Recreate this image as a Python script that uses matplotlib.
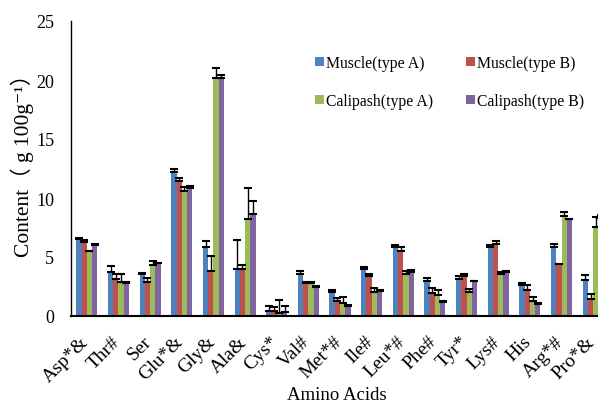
import matplotlib
matplotlib.use("Agg")
import matplotlib.pyplot as plt
import matplotlib.transforms as mtransforms
import numpy as np

categories = ["Asp*&", "Thr#", "Ser", "Glu*&", "Gly&", "Ala&", "Cys*", "Val#", "Met*#",
              "Ile#", "Leu*#", "Phe#", "Tyr*", "Lys#", "His", "Arg*#", "Pro*&"]
series_names = ["Muscle(type A)", "Muscle(type B)", "Calipash(type A)", "Calipash(type B)"]

muscle_a = [6.5, 3.75, 3.53, 12.18, 5.82, 3.98, 0.45, 3.59, 2.0, 3.98, 5.82, 3.0, 3.14, 5.87, 2.63, 5.82, 3.08]
muscle_b = [6.3, 3.1, 2.88, 11.44, 3.84, 3.98, 0.45, 2.82, 1.3, 3.42, 5.53, 1.92, 3.42, 6.1, 2.2, 4.4, 1.44]
calip_a = [5.5, 2.9, 4.35, 10.57, 20.2, 8.25, 0.23, 2.77, 1.1, 2.06, 3.53, 1.8, 2.0, 3.6, 1.24, 8.5, 7.57]
calip_b = [6.0, 2.77, 4.47, 10.87, 20.2, 8.64, 0.37, 2.46, 0.87, 2.12, 3.76, 1.21, 2.94, 3.7, 1.02, 8.22, 8.3]

err_muscle_a = [0.1, 0.5, 0.14, 0.25, 0.56, 2.46, 0.42, 0.2, 0.22, 0.2, 0.22, 0.25, 0.25, 0.17, 0.2, 0.28, 0.4]
err_muscle_b = [0.1, 0.45, 0.3, 0.25, 1.27, 0.37, 0.28, 0.05, 0.23, 0.14, 0.28, 0.45, 0.15, 0.22, 0.42, 0.0, 0.4]
err_calip_a = [0.05, 0.65, 0.3, 0.4, 0.8, 2.63, 1.13, 0.08, 0.5, 0.28, 0.3, 0.42, 0.25, 0.17, 0.34, 0.34, 0.8]
err_calip_b = [0.1, 0.14, 0.05, 0.15, 0.25, 1.13, 0.45, 0.06, 0.07, 0.08, 0.15, 0.06, 0.05, 0.14, 0.06, 0.03, 0.3]

colors = ["#4F81BD", "#C0504D", "#9BBB59", "#8064A2"]

plt.rcParams["font.family"] = ["Liberation Serif", "Noto Sans CJK SC", "DejaVu Sans"]

fig = plt.figure(figsize=(5.98, 4.06), dpi=100)
W, H = 598, 406
left, right, bottom, top = 71, 609, 317, 22
ax = fig.add_axes([left / W, 1 - bottom / H, (right - left) / W, (bottom - top) / H])

x = np.arange(len(categories))
bw = 0.166
data = [muscle_a, muscle_b, calip_a, calip_b]
errs = [err_muscle_a, err_muscle_b, err_calip_a, err_calip_b]
handles = []
for i, (vals, e, c, name) in enumerate(zip(data, errs, colors, series_names)):
    pos = x + (i - 1.5) * bw
    h = ax.bar(pos, vals, width=bw, color=c, label=name, zorder=2)
    handles.append(h)
    ax.errorbar(pos, vals, yerr=[np.zeros(len(e)), e], fmt="none", ecolor="black",
                elinewidth=1.0, capsize=3, capthick=1.5, zorder=3)

ax.set_xlim(-0.5, len(categories) - 0.5)
ax.set_ylim(0, 25)
ax.set_yticks([0, 5, 10, 15, 20, 25])
ax.tick_params(axis="y", length=0, labelsize=13, pad=12)
ax.tick_params(axis="x", length=0, labelsize=14, pad=12)
ax.set_xticks(x)
ax.set_xticklabels(categories, rotation=45, ha="right", rotation_mode="anchor")
shift = mtransforms.ScaledTranslation(-7 / 100, 0, fig.dpi_scale_trans)
for lab in ax.get_xticklabels():
    lab.set_transform(lab.get_transform() + shift)
for s in ["top", "right"]:
    ax.spines[s].set_visible(False)
ax.spines["left"].set_linewidth(1.0)
ax.spines["bottom"].set_linewidth(1.5)

fig.text(337 / W, 1 - 396 / H, "Amino Acids", fontsize=13.5, ha="center", va="center")
fig.text(22 / W, 1 - 160 / H, "Content（ g 100g⁻¹）", fontsize=15.5, rotation=90,
         ha="center", va="center")

order = [0, 2, 1, 3]
leg = ax.legend([handles[k] for k in order], [series_names[k] for k in order],
                ncol=2, loc="upper left", bbox_to_anchor=(309 / W, 1 - 50 / H),
                bbox_transform=fig.transFigure, frameon=False, fontsize=11.3,
                borderaxespad=0, handlelength=0.55, handleheight=0.55, handletextpad=0.15,
                columnspacing=2.1, labelspacing=1.4)

fig.savefig("out.png", dpi=100)
